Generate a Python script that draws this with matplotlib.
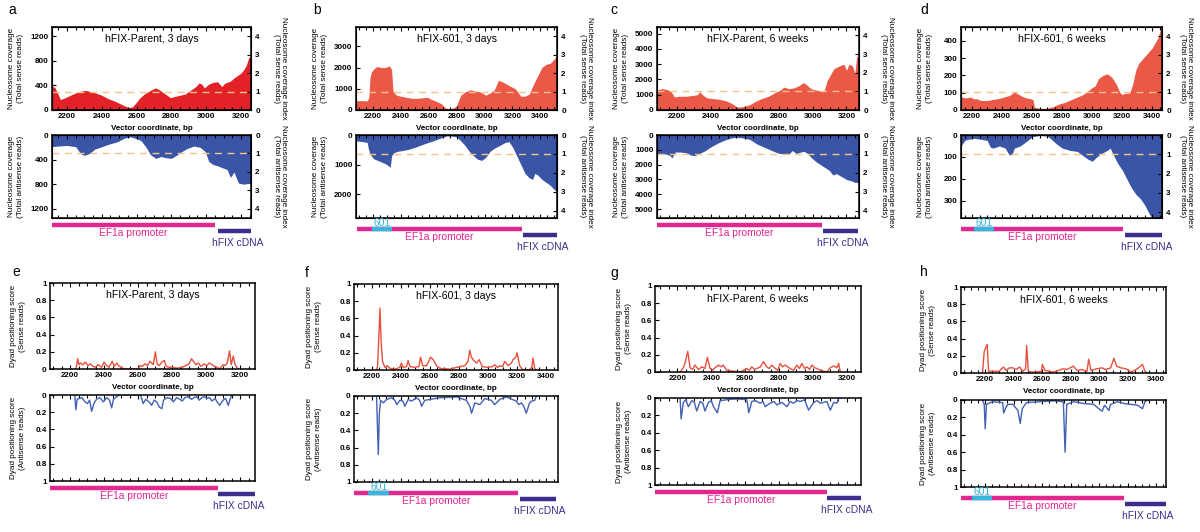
import matplotlib
matplotlib.use("Agg")
import matplotlib.pyplot as plt
from matplotlib.ticker import MultipleLocator

plt.rcParams['font.family'] = ['Liberation Sans', 'DejaVu Sans']

# ---------------- nucleosome coverage (reads) ----------------
a_sense_bp = [2110, 2130, 2145, 2162, 2190, 2220, 2260, 2300, 2320, 2360, 2400, 2440, 2470, 2500, 2530, 2555, 2575, 2595, 2620, 2645,
              2680, 2710, 2735, 2760, 2795, 2820, 2850, 2880, 2910, 2940, 2960, 2975, 2990, 3015, 3040, 3065, 3090, 3105, 3120, 3140,
              3160, 3180, 3200, 3215, 3230, 3245, 3260]
a_sense = [390, 370, 280, 170, 200, 240, 290, 320, 310, 280, 240, 180, 150, 110, 70, 40, 50, 110, 200, 260,
           320, 360, 320, 270, 200, 220, 240, 260, 320, 380, 440, 420, 360, 420, 450, 460, 380, 430, 450, 470,
           520, 560, 600, 650, 720, 850, 870]
a_anti_bp = [2110, 2150, 2200, 2250, 2280, 2300, 2330, 2360, 2400, 2440, 2490, 2530, 2565, 2600, 2625, 2655, 2680, 2710, 2740, 2770,
             2800, 2830, 2860, 2890, 2930, 2965, 2995, 3015, 3040, 3065, 3090, 3120, 3140, 3160, 3185, 3215, 3240, 3260]
a_anti = [190, 180, 170, 190, 310, 330, 300, 230, 190, 150, 110, 50, 30, 60, 90, 200, 320, 380, 350, 370,
          380, 330, 270, 220, 180, 200, 270, 430, 480, 500, 530, 560, 690, 600, 780, 800, 790, 780]

b_sense_bp = [2080, 2120, 2160, 2172, 2180, 2190, 2210, 2230, 2260, 2290, 2320, 2335, 2345, 2370, 2400, 2440, 2480, 2520, 2560, 2590,
              2620, 2650, 2690, 2720, 2745, 2780, 2800, 2830, 2860, 2900, 2930, 2970, 3010, 3040, 3070, 3100, 3120, 3150, 3190, 3220,
              3260, 3290, 3320, 3350, 3380, 3410, 3440, 3470, 3500, 3520]
b_sense = [440, 440, 430, 600, 1500, 1800, 1950, 2050, 2000, 2000, 2080, 1900, 870, 700, 650, 600, 550, 550, 580, 600,
           500, 420, 300, 100, 60, 100, 200, 700, 850, 950, 900, 850, 700, 800, 950, 1400, 1350, 1250, 1100, 1000,
           650, 650, 750, 1200, 1600, 2000, 2150, 2200, 2400, 2600]
b_anti_bp = [2080, 2120, 2160, 2168, 2180, 2205, 2230, 2255, 2280, 2300, 2315, 2325, 2335, 2350, 2380, 2420, 2460, 2500, 2540, 2580,
             2620, 2660, 2700, 2730, 2770, 2800, 2830, 2860, 2890, 2920, 2950, 2980, 3010, 3040, 3070, 3110, 3150, 3175, 3200, 3230,
             3260, 3290, 3320, 3345, 3360, 3380, 3410, 3440, 3470, 3500, 3520]
b_anti = [200, 220, 250, 450, 650, 800, 850, 900, 950, 1000, 1050, 1100, 700, 600, 550, 520, 480, 420, 350, 280,
          220, 150, 80, 30, 40, 60, 200, 350, 550, 700, 820, 860, 750, 550, 450, 350, 250, 230, 400, 700,
          1000, 1300, 1450, 1500, 1300, 1350, 1500, 1600, 1700, 1850, 1900]

c_sense_bp = [2082, 2110, 2140, 2165, 2185, 2210, 2250, 2290, 2320, 2335, 2350, 2375, 2410, 2450, 2490, 2520, 2540, 2555, 2575, 2600,
              2630, 2660, 2700, 2740, 2780, 2810, 2830, 2860, 2890, 2920, 2945, 2965, 2990, 3020, 3050, 3070, 3085, 3100, 3125, 3160,
              3185, 3200, 3215, 3235, 3250, 3260, 3275]
c_sense = [1300, 1400, 1350, 1200, 850, 900, 900, 950, 1000, 1200, 1000, 800, 750, 700, 600, 450, 300, 200, 200, 250,
           350, 550, 750, 900, 1150, 1300, 1500, 1400, 1450, 1600, 1800, 1650, 1400, 1300, 1250, 1300, 1900, 2200, 2700, 2900,
           3000, 2600, 3000, 2900, 2400, 3500, 3400]
c_anti_bp = [2082, 2110, 2140, 2160, 2170, 2190, 2220, 2255, 2280, 2305, 2330, 2360, 2400, 2440, 2480, 2520, 2550, 2590, 2630, 2670,
             2710, 2750, 2790, 2830, 2860, 2880, 2905, 2930, 2950, 2970, 2990, 3020, 3060, 3100, 3120, 3140, 3170, 3200, 3230, 3250,
             3275]
c_anti = [1300, 1250, 1300, 1400, 1550, 1150, 1150, 1200, 1350, 1400, 1250, 1100, 800, 550, 350, 200, 150, 200, 300, 600,
          800, 1000, 1200, 1300, 1300, 1050, 1250, 1150, 1100, 1250, 1500, 1800, 2100, 2400, 2700, 2600, 2800, 3000, 3100, 3200,
          3200]

d_sense_bp = [2125, 2160, 2190, 2210, 2230, 2260, 2300, 2330, 2370, 2410, 2450, 2480, 2500, 2530, 2560, 2590, 2605, 2615, 2650, 2700,
              2740, 2780, 2820, 2860, 2900, 2940, 2970, 3000, 3020, 3040, 3070, 3100, 3130, 3160, 3185, 3200, 3215, 3250, 3270, 3290,
              3310, 3340, 3370, 3400, 3420, 3440, 3455, 3465]
d_sense = [75, 70, 75, 65, 65, 55, 55, 60, 65, 75, 85, 105, 95, 80, 70, 65, 60, 15, 10, 10,
           20, 35, 45, 60, 75, 90, 110, 130, 140, 180, 200, 210, 190, 150, 100, 90, 95, 100, 150, 230,
           270, 300, 330, 360, 390, 420, 470, 450]
d_anti_bp = [2125, 2150, 2170, 2210, 2260, 2300, 2320, 2340, 2380, 2420, 2445, 2465, 2480, 2520, 2560, 2600, 2650, 2700, 2720, 2760,
             2800, 2850, 2900, 2940, 2970, 3000, 3030, 3060, 3100, 3120, 3140, 3170, 3200, 3230, 3260, 3290, 3320, 3350, 3380, 3400,
             3420, 3465]
d_anti = [50, 25, 20, 15, 20, 25, 55, 60, 50, 60, 90, 90, 60, 50, 30, 8, 2, 5, 15, 40,
          60, 70, 75, 95, 110, 120, 100, 85, 70, 60, 90, 130, 160, 200, 240, 270, 290, 320, 360, 380,
          380, 380]

# ---------------- dyad positioning scores ----------------
e_sense_bp = [2235, 2245, 2252, 2262, 2275, 2290, 2305, 2320, 2335, 2350, 2365, 2385, 2400, 2415, 2430, 2448, 2460, 2475, 2485, 2500,
              2520, 2560, 2600, 2612, 2625, 2640, 2655, 2670, 2690, 2702, 2712, 2725, 2740, 2755, 2765, 2780, 2800, 2830, 2860, 2880,
              2900, 2915, 2925, 2940, 2955, 2970, 2990, 3005, 3020, 3035, 3050, 3065, 3080, 3100, 3112, 3125, 3138, 3148, 3160, 3170,
              3180, 3190]
e_sense = [0, 0.12, 0.05, 0.07, 0.05, 0.08, 0.04, 0.06, 0.03, 0.02, 0.05, 0.02, 0.08, 0.04, 0.02, 0.09, 0.03, 0.07, 0.04, 0.02,
           0, 0, 0, 0.04, 0.03, 0.06, 0.04, 0.09, 0.05, 0.2, 0.06, 0.04, 0.08, 0.1, 0.03, 0.02, 0.02, 0.01, 0.02, 0.04,
           0.06, 0.12, 0.09, 0.05, 0.07, 0.03, 0.06, 0.04, 0.07, 0.05, 0.03, 0.02, 0, 0.05, 0.04, 0.07, 0.21, 0.05, 0.15, 0.06,
           0.02, 0]
e_anti_bp = [2228, 2234, 2242, 2255, 2270, 2288, 2302, 2315, 2327, 2340, 2355, 2376, 2396, 2416, 2432, 2445, 2455, 2474, 2490, 2550,
             2615, 2630, 2645, 2665, 2680, 2695, 2710, 2725, 2740, 2750, 2770, 2790, 2808, 2827, 2845, 2860, 2876, 2895, 2915, 2930,
             2945, 2960, 2975, 2990, 3005, 3020, 3035, 3053, 3065, 3080, 3100, 3115, 3131, 3141, 3152]
e_anti = [0, 0.17, 0.05, 0.04, 0.03, 0.08, 0.1, 0.06, 0.19, 0.1, 0.05, 0.03, 0.08, 0.03, 0.06, 0.15, 0.05, 0.02, 0, 0,
          0, 0.1, 0.05, 0.08, 0.12, 0.06, 0.08, 0.14, 0.16, 0.06, 0.03, 0.04, 0.08, 0.03, 0.05, 0.07, 0.03, 0.02, 0.05, 0.03,
          0.02, 0.06, 0.03, 0.02, 0.04, 0.03, 0.07, 0.04, 0.08, 0.12, 0.06, 0.04, 0.12, 0.05, 0]

f_sense_bp = [2234, 2241, 2250, 2257, 2266, 2275, 2291, 2307, 2326, 2360, 2394, 2405, 2417, 2440, 2451, 2463, 2497, 2525, 2536, 2550,
              2577, 2592, 2605, 2623, 2646, 2669, 2737, 2806, 2840, 2862, 2874, 2885, 2897, 2920, 2938, 2961, 2999, 3030, 3045, 3065,
              3080, 3100, 3114, 3137, 3160, 3171, 3190, 3199, 3217, 3240, 3280, 3300, 3308, 3320, 3331]
f_sense = [0, 0.05, 0.4, 0.72, 0.3, 0.1, 0.03, 0.05, 0.02, 0.01, 0.03, 0.08, 0.03, 0.04, 0.11, 0.04, 0.03, 0.04, 0.15, 0.05,
           0.05, 0.1, 0.15, 0.12, 0.05, 0.02, 0.01, 0.04, 0.05, 0.1, 0.23, 0.15, 0.12, 0.08, 0.12, 0.04, 0.03, 0.04, 0.06, 0.03,
           0.05, 0.04, 0.1, 0.05, 0.08, 0.12, 0.15, 0.2, 0.05, 0, 0, 0.03, 0.14, 0.02, 0]
f_anti_bp = [2234, 2239, 2246, 2253, 2262, 2280, 2303, 2337, 2360, 2372, 2394, 2415, 2428, 2451, 2474, 2508, 2530, 2543, 2565, 2600,
             2669, 2783, 2851, 2875, 2886, 2909, 2943, 2977, 3000, 3022, 3045, 3080, 3125, 3194, 3210, 3228, 3245, 3262, 3285, 3300,
             3320, 3331]
f_anti = [0, 0.3, 0.68, 0.2, 0.05, 0.08, 0.04, 0.02, 0.05, 0.1, 0.05, 0.06, 0.12, 0.04, 0.06, 0.02, 0.05, 0.12, 0.05, 0.04,
          0.02, 0.01, 0.05, 0.12, 0.2, 0.08, 0.1, 0.03, 0.04, 0.05, 0.1, 0.04, 0.01, 0.06, 0.1, 0.08, 0.12, 0.2, 0.08, 0.06,
          0.05, 0]

g_sense_bp = [2216, 2235, 2245, 2261, 2275, 2290, 2304, 2324, 2344, 2363, 2377, 2393, 2410, 2422, 2442, 2458, 2471, 2491, 2530, 2570,
              2610, 2625, 2639, 2655, 2668, 2690, 2708, 2727, 2742, 2757, 2777, 2792, 2806, 2820, 2836, 2866, 2885, 2905, 2920, 2934,
              2950, 2964, 2980, 2993, 3010, 3023, 3043, 3082, 3102, 3122, 3141, 3151, 3161]
g_sense = [0, 0.05, 0.1, 0.24, 0.05, 0.03, 0.08, 0.03, 0.06, 0.04, 0.17, 0.04, 0.02, 0.05, 0.08, 0.06, 0.08, 0.02, 0.01, 0,
           0.04, 0.02, 0.06, 0.03, 0.04, 0.06, 0.12, 0.06, 0.04, 0.08, 0.04, 0.02, 0.1, 0.06, 0.08, 0.04, 0.02, 0.08, 0.04, 0.1,
           0.04, 0.06, 0.03, 0.08, 0.05, 0.04, 0.02, 0, 0.05, 0.07, 0.05, 0.1, 0]
g_anti_bp = [2216, 2222, 2235, 2250, 2265, 2285, 2300, 2314, 2334, 2350, 2363, 2383, 2400, 2413, 2436, 2452, 2491, 2550, 2610, 2621,
             2639, 2660, 2688, 2705, 2718, 2747, 2770, 2787, 2816, 2846, 2865, 2885, 2905, 2925, 2950, 2974, 3004, 3025, 3043, 3065,
             3082, 3102, 3122, 3141, 3151]
g_anti = [0, 0.24, 0.05, 0.02, 0.1, 0.03, 0.05, 0.15, 0.04, 0.06, 0.15, 0.05, 0.03, 0.1, 0.17, 0.03, 0.02, 0.01, 0.02, 0.17,
          0.04, 0.03, 0.06, 0.04, 0.1, 0.06, 0.04, 0.08, 0.05, 0.1, 0.04, 0.06, 0.03, 0.04, 0.02, 0.14, 0.05, 0.03, 0.06, 0.05,
          0.04, 0.14, 0.05, 0.06, 0]

h_sense_bp = [2181, 2193, 2205, 2214, 2224, 2299, 2328, 2347, 2370, 2394, 2418, 2441, 2465, 2484, 2491, 2503, 2536, 2595, 2602, 2619,
              2678, 2749, 2773, 2820, 2844, 2879, 2915, 2927, 2943, 2986, 3021, 3045, 3081, 3104, 3123, 3152, 3187, 3223, 3270, 3305,
              3322, 3341]
h_sense = [0, 0.25, 0.3, 0.33, 0.02, 0.02, 0.07, 0.03, 0.06, 0.06, 0.04, 0.07, 0.02, 0.05, 0.32, 0.02, 0.01, 0.02, 0.1, 0.03,
           0.01, 0.05, 0.04, 0.08, 0.03, 0.04, 0.02, 0.16, 0.03, 0.05, 0.06, 0.04, 0.06, 0.17, 0.08, 0.06, 0.05, 0.01, 0.05, 0.1,
           0.02, 0]
h_anti_bp = [2181, 2193, 2200, 2209, 2252, 2323, 2330, 2347, 2359, 2394, 2430, 2446, 2460, 2489, 2583, 2678, 2749, 2761, 2773, 2820,
             2891, 2962, 2998, 3021, 3038, 3069, 3081, 3128, 3175, 3223, 3270, 3305, 3322, 3341]
h_anti = [0, 0.05, 0.33, 0.05, 0.02, 0.03, 0.15, 0.08, 0.05, 0.05, 0.12, 0.27, 0.1, 0.03, 0.02, 0.01, 0.02, 0.6, 0.05, 0.02,
          0.04, 0.05, 0.1, 0.13, 0.06, 0.12, 0.05, 0.02, 0.04, 0.05, 0.06, 0.1, 0.02, 0]

# ---------------- vector map features (bp start, end) ----------------
titles = ['hFIX-Parent, 3 days', 'hFIX-601, 3 days', 'hFIX-Parent, 6 weeks', 'hFIX-601, 6 weeks']
ef1a = {'a': (2114, 3053), 'b': (2090, 3268), 'c': (2082, 3053), 'd': (2124, 3206),
        'e': (2082, 3072), 'f': (2079, 3206), 'g': (2068, 3082), 'h': (2030, 3175)}
seg601 = {'b': (2193, 2339), 'd': (2211, 2342), 'f': (2177, 2321), 'h': (2110, 2247)}
cdna = {'a': (3066, 3263), 'b': (3276, 3526), 'c': (3063, 3266), 'd': (3217, 3484),
        'e': (3072, 3288), 'f': (3217, 3464), 'g': (3082, 3283), 'h': (3182, 3471)}

W, H = 1200, 532
fig = plt.figure(figsize=(12, 5.32), dpi=100)

RED_A = '#e22226'
RED = '#ea5847'
BLUE = '#3b55a6'
LRED = '#e8503e'
LBLUE = '#4260b5'
DASH = '#f5c486'
PINK = '#e2278f'
CYAN = '#35b6da'
NAVY = '#3b2f8e'
LAB = 5.9


def box(l, t, r, b):
    return [l / W, 1 - b / H, (r - l) / W, (b - t) / H]


def side_label(x, ytop, ybot, text, rot, spacing=1.35):
    fig.text(x / W, 1 - (ytop + ybot) / 2 / H, text, rotation=rot, ha='center', va='center',
             fontsize=LAB, linespacing=spacing, multialignment='center')


def style(ax, xlim):
    ax.set_xlim(xlim)
    ax.xaxis.set_major_locator(MultipleLocator(200))
    ax.xaxis.set_minor_locator(MultipleLocator(50))
    ax.tick_params(which='both', direction='in', top=True, bottom=True, left=True, right=False,
                   width=0.8, labelsize=5.8, pad=2.5)
    ax.tick_params(which='major', length=3)
    ax.tick_params(which='minor', length=2)
    for s in ax.spines.values():
        s.set_linewidth(1.1)
    for lab in ax.get_xticklabels() + ax.get_yticklabels():
        lab.set_fontweight('bold')


def right_axis(ax, top, inverted):
    rx = ax.twinx()
    rx.set_ylim((top, 0) if inverted else (0, top))
    rx.set_yticks([0, 1, 2, 3, 4])
    rx.tick_params(direction='in', length=3, width=0.8, labelsize=5.8, pad=3)
    for lab in rx.get_yticklabels():
        lab.set_fontweight('bold')


def track(letter, l, r, top, xlim):
    ax = fig.add_axes(box(l, top, r, top + 40))
    ax.set_xlim(xlim)
    ax.set_ylim(40, 0)
    ax.axis('off')
    has601 = letter in seg601
    y_bar = 11 if has601 else 7
    y_txt = 19 if has601 else 15
    y_cb = 17 if has601 else 13
    y_ct = 29 if has601 else 25
    e0, e1 = ef1a[letter]
    ax.hlines(y_bar, e0, e1, color=PINK, lw=3.2)
    ax.text((e0 + e1) / 2, y_txt, 'EF1a promoter', color=PINK, fontsize=7.4, ha='center', va='center')
    if has601:
        s0, s1 = seg601[letter]
        ax.hlines(y_bar, s0, s1, color=CYAN, lw=3.2)
        ax.text((s0 + s1) / 2, y_bar - 6, '601', color=CYAN, fontsize=7.4, ha='center', va='center')
    c0, c1 = cdna[letter]
    ax.hlines(y_cb, c0, c1, color=NAVY, lw=3.2)
    ax.text((c0 + c1) / 2 + 15, y_ct, 'hFIX cDNA', color=NAVY, fontsize=7.4, ha='center', va='center')


def coverage(letter, l, r, roff, title, xlim, sbp, sv, abp, av, s_top, s_unit, s_ticks, a_top, a_unit, a_ticks, red):
    # sense
    ax = fig.add_axes(box(l, 27, r, 110))
    ax.fill_between(sbp, 0, sv, color=red, lw=0)
    ax.axhline(s_unit, color=DASH, ls=(0, (5, 4)), lw=1)
    ax.set_ylim(0, s_top)
    ax.set_yticks(s_ticks)
    style(ax, xlim)
    ax.text(0.5, 0.86, title, transform=ax.transAxes, ha='center', va='center', fontsize=7.6)
    ax.set_xlabel('Vector coordinate, bp', fontsize=5.8, fontweight='bold', labelpad=3)
    right_axis(ax, s_top / s_unit, False)
    side_label(l - 36, 27, 110, 'Nucleosome coverage\n(Total sense reads)', 90)
    side_label(r + roff, 27, 110, 'Nucleosome coverage index\n(Total sense reads)', 270, 1.15)
    # antisense
    ax2 = fig.add_axes(box(l, 135, r, 218))
    ax2.fill_between(abp, 0, av, color=BLUE, lw=0)
    ax2.axhline(a_unit, color=DASH, ls=(0, (5, 4)), lw=1)
    ax2.set_ylim(a_top, 0)
    ax2.set_yticks(a_ticks)
    style(ax2, xlim)
    ax2.set_xticklabels([])
    right_axis(ax2, a_top / a_unit, True)
    side_label(l - 36, 135, 218, 'Nucleosome coverage\n(Total antisense reads)', 90)
    side_label(r + roff, 135, 218, 'Nucleosome coverage index\n(Total antisense reads)', 270, 1.15)
    track(letter, l, r, 218, xlim)


def dyad(letter, l, r, tops, off, title, xlim, sbp, sv, abp, av):
    st, sb, at, ab = tops
    ticks = [0, 0.2, 0.4, 0.6, 0.8, 1]
    names = ['0', '0.2', '0.4', '0.6', '0.8', '1']
    ax = fig.add_axes(box(l, st, r, sb))
    ax.plot(sbp, sv, color=LRED, lw=1)
    ax.set_ylim(0, 1)
    ax.set_yticks(ticks)
    ax.set_yticklabels(names)
    style(ax, xlim)
    ax.text(0.5, 0.86, title, transform=ax.transAxes, ha='center', va='center', fontsize=7.6)
    ax.set_xlabel('Vector coordinate, bp', fontsize=5.8, fontweight='bold', labelpad=3)
    side_label(l - off, st, sb, 'Dyad positioning score\n(Sense reads)', 90)
    ax2 = fig.add_axes(box(l, at, r, ab))
    ax2.plot(abp, av, color=LBLUE, lw=1)
    ax2.set_ylim(1, 0)
    ax2.set_yticks(ticks)
    ax2.set_yticklabels(names)
    style(ax2, xlim)
    ax2.set_xticklabels([])
    side_label(l - off, at, ab, 'Dyad positioning score\n(Antisense reads)', 90)
    track(letter, l, r, ab, xlim)


coverage('a', 52, 251, 29, titles[0], (2114, 3258), a_sense_bp, a_sense, a_anti_bp, a_anti,
         1350, 300, [0, 400, 800, 1200], 1350, 300, [0, 400, 800, 1200], RED_A)
coverage('b', 356, 557, 29, titles[1], (2080, 3519), b_sense_bp, b_sense, b_anti_bp, b_anti,
         3910, 870, [0, 1000, 2000, 3000], 2810, 640, [0, 1000, 2000], RED)
coverage('c', 657, 859, 28, titles[2], (2082, 3274), c_sense_bp, c_sense, c_anti_bp, c_anti,
         5440, 1222, [0, 1000, 2000, 3000, 4000, 5000], 5600, 1280, [0, 1000, 2000, 3000, 4000, 5000], RED)
coverage('d', 961, 1162, 24, titles[3], (2125, 3465), d_sense_bp, d_sense, d_anti_bp, d_anti,
         481, 107, [0, 100, 200, 300, 400], 379, 88, [0, 100, 200, 300], RED)

dyad('e', 50, 255, (283, 369, 395, 481), 32, titles[0], (2082, 3288), e_sense_bp, e_sense, e_anti_bp, e_anti)
dyad('f', 354, 558, (284, 370, 396, 482), 40, titles[1], (2079, 3480), f_sense_bp, f_sense, f_anti_bp, f_anti)
dyad('g', 655, 861, (286, 372, 398, 485), 31, titles[2], (2068, 3283), g_sense_bp, g_sense, g_anti_bp, g_anti)
dyad('h', 961, 1166, (287, 373, 400, 487), 33, titles[3], (2030, 3470), h_sense_bp, h_sense, h_anti_bp, h_anti)

for let, x, y in [('a', 8, 10), ('b', 313, 10), ('c', 610, 10), ('d', 920, 10),
                  ('e', 12, 272), ('f', 305, 273), ('g', 610, 273), ('h', 920, 272)]:
    fig.text(x / W, 1 - y / H, let, fontsize=10, ha='left', va='center')

fig.savefig('out.png', dpi=100)
